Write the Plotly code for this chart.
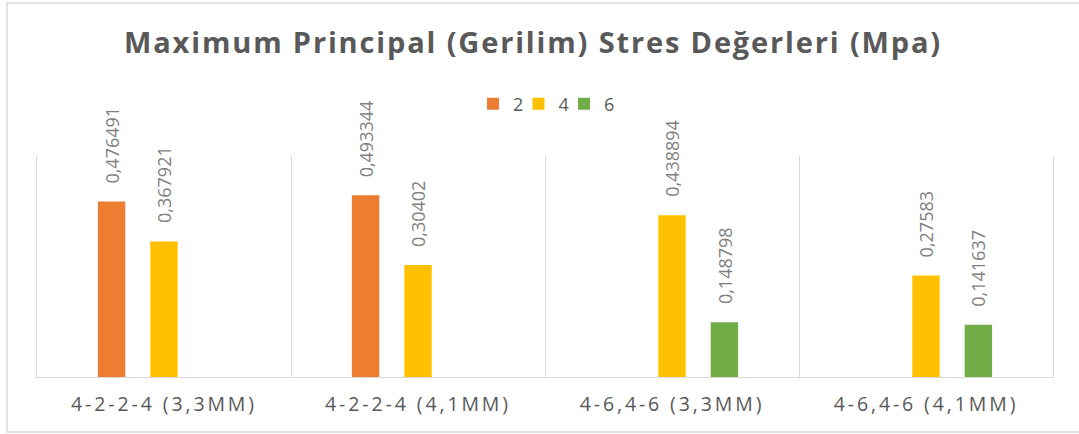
import plotly.graph_objects as go

# Chart data
categories = ["4-2-2-4 (3,3MM)", "4-2-2-4 (4,1MM)", "4-6,4-6 (3,3MM)", "4-6,4-6 (4,1MM)"]
series_names = ["2", "4", "6"]
values_2 = [0.476491, 0.493344, None, None]
values_4 = [0.367921, 0.30402, 0.438894, 0.27583]
values_6 = [None, None, 0.148798, 0.141637]
series_values = [values_2, values_4, values_6]
colors = ["#ED7D31", "#FFC000", "#70AD47"]

W, H = 1079, 434
MARGIN = dict(l=37, r=26, t=156, b=57)
BARGAP = 0.381
GROUPGAP = 0.477
PLOT_W = W - MARGIN["l"] - MARGIN["r"]
PLOT_H = H - MARGIN["t"] - MARGIN["b"]

TEXT = "#595959"
LABEL = "#7f7f7f"
GRID = "#d9d9d9"
FONT = "Open Sans"

fig = go.Figure()
n_series = len(series_names)
for k, (name, vals, col) in enumerate(zip(series_names, series_values, colors)):
    # compact legend entries; the last one keeps room for its text
    fig.add_bar(name=name, x=categories, y=vals,
                marker=dict(color=col, line_width=0),
                legendwidth=0.5 if k < n_series - 1 else 12)

# rotated value labels above each bar
slot = (1 - BARGAP) / n_series
for k, vals in enumerate(series_values):
    for i, v in enumerate(vals):
        if v is None:
            continue
        fig.add_annotation(
            x=i + (k - 1) * slot, y=v, xref="x", yref="y",
            text=str(v).replace(".", ","), textangle=-90,
            xanchor="center", yanchor="bottom", yshift=16,
            showarrow=False,
            font=dict(family=FONT, size=18, color=LABEL),
        )

# light outer frame of the chart area
def px_to_paper_x(px):
    return (px - MARGIN["l"]) / PLOT_W

def px_to_paper_y(py):
    return (H - MARGIN["b"] - py) / PLOT_H

fig.add_shape(type="rect", xref="paper", yref="paper",
              x0=px_to_paper_x(7), x1=px_to_paper_x(1095),
              y0=px_to_paper_y(432), y1=px_to_paper_y(3),
              line=dict(color=GRID, width=1.5), fillcolor="rgba(0,0,0,0)",
              layer="below")

fig.update_layout(
    width=W, height=H, autosize=False,
    margin=dict(MARGIN, pad=0),
    paper_bgcolor="white", plot_bgcolor="white",
    barmode="group", bargap=BARGAP, bargroupgap=GROUPGAP,
    title=dict(
        text="Maximum Principal (Gerilim) Stres Değerleri (Mpa)",
        x=0.494, xanchor="center", xref="container",
        y=1 - 43 / H, yanchor="middle", yref="container",
        font=dict(family=FONT, size=29, color=TEXT, weight="bold"),
    ),
    legend=dict(
        orientation="h", x=px_to_paper_x(547), xanchor="center",
        y=1 + (MARGIN["t"] - 104) / PLOT_H, yanchor="middle",
        font=dict(family=FONT, size=18, color=TEXT),
        itemwidth=30, traceorder="normal",
        entrywidthmode="pixels",
    ),
    showlegend=True,
    xaxis=dict(
        type="category", range=[-0.5, 3.5],
        tickson="boundaries", ticks="",
        showgrid=True, gridcolor=GRID, gridwidth=1,
        showline=True, linecolor=GRID, linewidth=1,
        tickfont=dict(family=FONT, size=19.5, color=TEXT),
        ticklabelstandoff=10,
    ),
    yaxis=dict(
        range=[0, 0.6], showgrid=False, zeroline=False,
        showticklabels=False, ticks="",
        showline=True, mirror=True, linecolor=GRID, linewidth=1,
    ),
)

# letter spacing for the title and category labels
spacing_js = """
var gd = document.getElementById('{plot_id}');
function applySpacing(){
  gd.querySelectorAll('.gtitle').forEach(function(e){ e.style.letterSpacing = '1.85px'; });
  gd.querySelectorAll('.xtick text').forEach(function(e){ e.style.letterSpacing = '2.9px'; });
}
applySpacing();
gd.on('plotly_afterplot', applySpacing);
"""

fig.write_html("out.html", post_script=spacing_js)
